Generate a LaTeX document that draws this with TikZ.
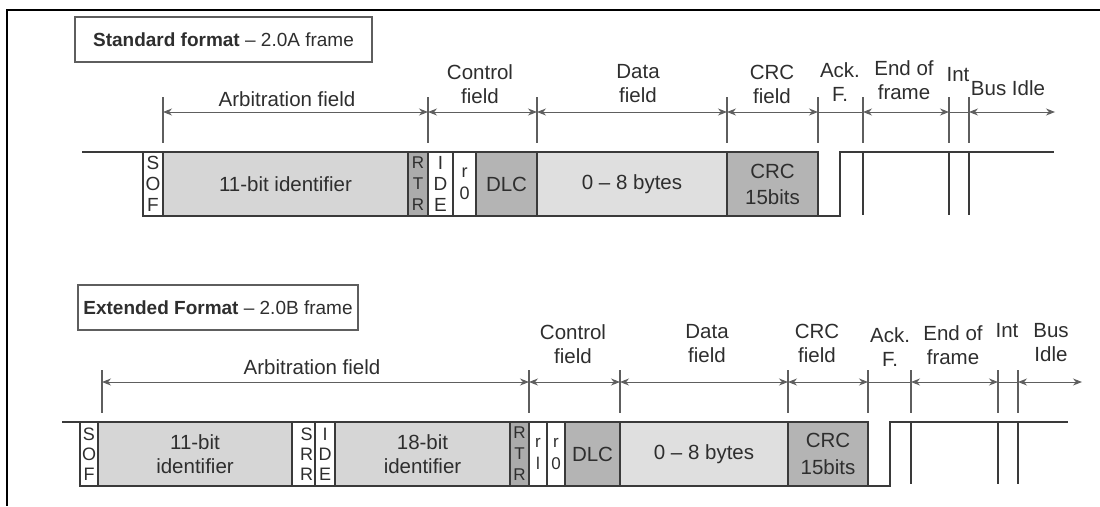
\documentclass[tikz,border=0pt]{standalone}
\usepackage{fontspec}
\setmainfont{Liberation Sans}
\usetikzlibrary{arrows.meta}
\definecolor{ink}{HTML}{2E2E2E}
\definecolor{linec}{HTML}{3A3A3A}
\definecolor{dimc}{HTML}{5E5E5E}
\definecolor{idgray}{HTML}{D6D6D6}
\definecolor{datagray}{HTML}{DFDFDF}
\definecolor{rtrgray}{HTML}{ABABAB}
\definecolor{dlcgray}{HTML}{B4B4B4}
\begin{document}
\begin{tikzpicture}[x=1pt,y=-1pt,
  fld/.style={draw=linec, line width=1.8pt, inner sep=0pt, outer sep=0pt, text=ink, align=center,
              minimum height=64, font=\fontsize{20.5}{23.5}\selectfont},
  stack/.style={font=\fontsize{19}{21}\selectfont},
  small/.style={font=\fontsize{17}{21}\selectfont},
  sig/.style={draw=linec, line width=1.8pt, line cap=rect},
  lbl/.style={text=ink, align=center, inner sep=0pt, font=\fontsize{20.5}{24}\selectfont},
  tickline/.style={draw=dimc, line width=1.2pt},
  dimline/.style={draw=dimc, line width=1pt, {Stealth[length=9pt,width=7pt]}-{Stealth[length=9pt,width=7pt]}},
  plainline/.style={draw=dimc, line width=1pt},
  ttl/.style={draw=dimc, line width=1.3pt, text=ink, inner sep=0pt, minimum height=45,
              font=\fontsize{19}{22}\selectfont},
]
\useasboundingbox (0,0) rectangle (1100,506);
% page edges
\draw[line width=2.5pt, black] (6,10) -- (1100,10);
\draw[line width=2.5pt, black] (7,10) -- (7,506);

% ================= Standard frame =================
\node[ttl, minimum width=297] (titleA) at (223.5,39.5) {\textbf{Standard format} – 2.0A frame};

\node[fld, fill=white, minimum width=20, stack] (sofA) at (153,184) {S\\O\\F};
\node[fld, fill=idgray, minimum width=245] (idA) at (285.5,184) {11-bit identifier};
\node[fld, fill=rtrgray, minimum width=20, small] (rtrA) at (418,184) {R\\T\\R};
\node[fld, fill=white, minimum width=25, stack] (ideA) at (440.5,184) {I\\D\\E};
\node[fld, fill=white, minimum width=23, font=\fontsize{18}{22}\selectfont] (r0A) at (464.5,184) {r\\0};
\node[fld, fill=dlcgray, minimum width=61] (dlcA) at (506.5,184) {DLC};
\node[fld, fill=datagray, minimum width=190] (dataA) at (632,184) {0 – 8 bytes};
\node[fld, fill=dlcgray, minimum width=91, font=\fontsize{20.5}{26}\selectfont] (crcA) at (772.5,184) {CRC\\15bits};

\coordinate (startA) at (83,152);
\coordinate (ackdnA) at (840,216);
\coordinate (ackupA) at (840,152);
\coordinate (endA) at (1053,152);
\draw[sig] (startA) -- (sofA.north west);
\draw[sig] (crcA.south east) -- (ackdnA) -- (ackupA) -- (endA);
\foreach \n/\x in {e/863, i/949, j/969} {
  \coordinate (vtA\n) at (\x,152);
  \coordinate (vbA\n) at (\x,214);
  \draw[sig] (vtA\n) -- (vbA\n);
}

\foreach \n/\x in {1/163,2/428,3/537,4/727,5/818,6/863,7/949,8/969} {
  \draw[tickline] (\x,97) -- (\x,143);
  \coordinate (tA\n) at (\x,112);
}
\coordinate (tA9) at (1055,112);
\draw[dimline] (tA1) -- (tA2);
\draw[dimline] (tA2) -- (tA3);
\draw[dimline] (tA3) -- (tA4);
\draw[dimline] (tA4) -- (tA5);
\draw[plainline] (tA5) -- (tA6);
\draw[dimline] (tA6) -- (tA7);
\draw[plainline] (tA7) -- (tA8);
\draw[dimline] (tA8) -- (tA9);

\node[lbl] (arbA) at (287,99) {Arbitration field};
\node[lbl] (ctrlA) at (480,84) {Control\\field};
\node[lbl] (datalA) at (638,84) {Data\\field};
\node[lbl] (crclA) at (772,84) {CRC\\field};
\node[lbl] (acklA) at (840,82) {Ack.\\F.};
\node[lbl] (eoflA) at (904,80) {End of\\frame};
\node[lbl] (intlA) at (958,75) {Int};
\node[lbl] (idlelA) at (1008,88) {Bus Idle};

% ================= Extended frame =================
\node[ttl, minimum width=280] (titleB) at (218,307.5) {\textbf{Extended Format} – 2.0B frame};

\node[fld, fill=white, minimum width=18, font=\fontsize{18}{20}\selectfont] (sofB) at (89,454) {S\\O\\F};
\node[fld, fill=idgray, minimum width=194] (idB) at (195,454) {11-bit\\identifier};
\node[fld, fill=white, minimum width=23, font=\fontsize{18}{20}\selectfont] (srrB) at (303.5,454) {\hspace*{6pt}S\\\hspace*{6pt}R\\\hspace*{6pt}R};
\node[fld, fill=white, minimum width=20, font=\fontsize{18}{20}\selectfont] (ideB) at (325,454) {I\\D\\E};
\node[fld, fill=idgray, minimum width=175] (eidB) at (422.5,454) {18-bit\\identifier};
\node[fld, fill=rtrgray, minimum width=19, small] (rtrB) at (519.5,454) {R\\T\\R};
\node[fld, fill=white, minimum width=18, font=\fontsize{17}{22}\selectfont] (r1B) at (538,454) {r\\l};
\node[fld, fill=white, minimum width=18, font=\fontsize{17}{22}\selectfont] (r0B) at (556,454) {r\\0};
\node[fld, fill=dlcgray, minimum width=55] (dlcB) at (592.5,454) {DLC};
\node[fld, fill=datagray, minimum width=168] (dataB) at (704,454) {0 – 8 bytes};
\node[fld, fill=dlcgray, minimum width=80, font=\fontsize{20.5}{27}\selectfont] (crcB) at (828,454) {CRC\\15bits};

\coordinate (startB) at (63,422);
\coordinate (ackdnB) at (890,486);
\coordinate (ackupB) at (890,422);
\coordinate (endB) at (1067,422);
\draw[sig] (startB) -- (sofB.north west);
\draw[sig] (crcB.south east) -- (ackdnB) -- (ackupB) -- (endB);
\foreach \n/\x in {e/911, i/998, j/1018} {
  \coordinate (vtB\n) at (\x,422);
  \coordinate (vbB\n) at (\x,483);
  \draw[sig] (vtB\n) -- (vbB\n);
}

\foreach \n/\x in {1/102,2/529,3/620,4/788,5/868,6/911,7/998,8/1018} {
  \draw[tickline] (\x,370) -- (\x,413);
  \coordinate (tB\n) at (\x,382);
}
\coordinate (tB9) at (1082,382);
\draw[dimline] (tB1) -- (tB2);
\draw[dimline] (tB2) -- (tB3);
\draw[dimline] (tB3) -- (tB4);
\draw[dimline] (tB4) -- (tB5);
\draw[plainline] (tB5) -- (tB6);
\draw[dimline] (tB6) -- (tB7);
\draw[plainline] (tB7) -- (tB8);
\draw[dimline] (tB8) -- (tB9);

\node[lbl] (arbB) at (312,367) {Arbitration field};
\node[lbl] (ctrlB) at (573,344) {Control\\field};
\node[lbl] (datalB) at (707,344) {Data\\field};
\node[lbl] (crclB) at (817,343) {CRC\\field};
\node[lbl] (acklB) at (890,347) {Ack.\\F.};
\node[lbl] (eoflB) at (953,345) {End of\\frame};
\node[lbl] (intlB) at (1007,331) {Int};
\node[lbl] (idlelB) at (1051,343) {Bus\\Idle};
\end{tikzpicture}
\end{document}
